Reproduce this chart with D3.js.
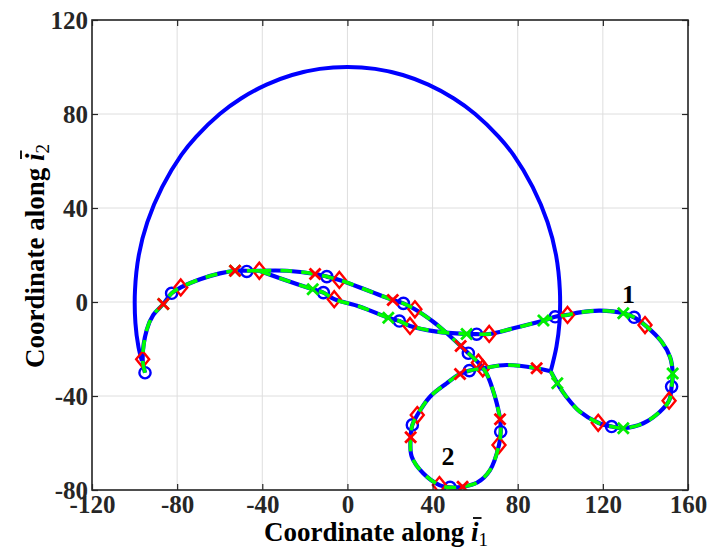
<!DOCTYPE html>
<html>
<head>
<meta charset="utf-8">
<script src="https://cdn.jsdelivr.net/npm/d3@7"></script>
<style>
  html, body { margin: 0; padding: 0; background: #fff; }
  svg { display: block; }
</style>
</head>
<body>
<svg id="chart" width="715" height="550"></svg>
<script>
// ---- axis ticks ----
const xTicks = [-120, -80, -40, 0, 40, 80, 120, 160];
const yTicks = [-80, -40, 0, 40, 80, 120];

// ---- reference circle (radius 100), sampled from its right end over the top to the left end ----
const arcPath = [
  [95.5, -29.5], [98.2, -19], [99.6, -9], [99.8, 5], [98, 20], [94, 34], [87, 49],
  [78, 62.6], [71, 70.4], [60, 80], [50, 86.6], [38, 92.5], [26, 96.6], [13, 99.2],
  [0, 100], [-13, 99.2], [-26, 96.6], [-38, 92.5], [-50, 86.6], [-60, 80],
  [-71, 70.4], [-78, 62.6], [-87, 49], [-94, 34], [-98, 20], [-99.8, 5],
  [-99.6, -9], [-98.2, -19], [-96.6, -25]
];

// ---- common launch segment shared by both trajectories ----
const sharedPath = [
  [-95.1, -30.1], [-96.2, -24.4], [-94.3, -11.9], [-91.2, -5.5], [-86.5, -0.85],
  [-82.6, 3.7], [-78.3, 6.2], [-69.2, 9.7], [-59.9, 12.2], [-52.8, 13.3],
  [-47.3, 13.3], [-41.4, 13.3]
];

// ---- trajectory 1: lower branch, loop "1", back to the circle ----
const path1 = [
  [-41.4, 13.3], [-31.7, 10.1], [-16.3, 5.4], [-11.3, 4.0], [-6.2, 1.2], [5.9, -2.0],
  [19.2, -6.7], [24.4, -8.1], [29.4, -10.2], [42.0, -12.6], [56.0, -13.6],
  [60.7, -13.7], [66.6, -13.6], [78, -11.2], [92.1, -7.9], [97.6, -6.3],
  [103.4, -5.5], [109.2, -4.4], [118.7, -3.7], [129.6, -4.8], [134.7, -6.5],
  [139.8, -9.8], [147.6, -16.9], [151.6, -23.5], [152.8, -30.4], [152.3, -36],
  [151.1, -42], [146.8, -46.7], [139, -51.6], [129.6, -53.7], [124.1, -53],
  [117.8, -51.4], [109.2, -46.7], [103, -40.5], [98.6, -34.6], [95.5, -29.5]
];

// ---- trajectory 2: upper branch, loop "2", back to the circle ----
const path2 = [
  [-41.4, 13.3], [-28.5, 13.3], [-15.2, 11.9], [-9.7, 10.8], [-3.8, 9.4], [9.0, 5.1],
  [21.3, 0.85], [26.3, -0.6], [31.7, -3.1], [40.3, -8.4], [45.0, -11.9],
  [53.2, -18.7], [56.8, -21.8], [61.5, -25.8], [65.4, -30.5], [69.3, -40.3],
  [71.7, -49.9], [72.0, -55.2], [71.2, -60.9], [67.0, -71.5], [61.0, -76.8],
  [54.1, -78.6], [48.2, -78.9], [43.2, -77.9], [35.6, -72.9], [30.2, -65.8],
  [29.7, -57.6], [30.5, -52.3], [32.8, -48.1], [38.8, -40.3], [46.6, -34.6],
  [52.9, -30.6], [57.3, -29.2], [63.6, -28.2], [74.8, -26.8], [88.9, -28.2],
  [95.5, -29.5]
];

// ---- sampled instants along the trajectories ----
const blueCircles = [
  [-95.1, -30.1], [-82.6, 3.7], [-47.3, 13.0],
  [-9.7, 10.8], [26.3, -0.6], [56.8, -21.8], [72.0, -55.2], [48.2, -78.9],
  [30.5, -52.3], [57.3, -29.2],
  [-11.3, 4.0], [24.4, -8.1], [60.7, -13.7], [97.6, -6.3], [134.7, -6.5],
  [152.3, -36], [124.1, -53]
];
const redDiamonds = [
  [-96.2, -24.4], [-78.3, 6.2], [-41.4, 13.3],
  [-3.8, 9.4], [31.7, -3.1], [61.5, -25.8], [71.2, -60.9], [43.2, -77.9],
  [32.8, -48.1], [63.6, -28.2],
  [-6.2, 1.2], [29.4, -10.2], [66.6, -13.6], [103.4, -5.5], [139.8, -9.8],
  [151.1, -42], [117.8, -51.4]
];
const greenCrosses = [
  [-86.5, -0.85], [-52.8, 13.3],
  [-16.3, 5.4], [19.2, -6.7], [56.0, -13.6], [92.1, -7.9], [129.6, -4.8],
  [152.8, -30.4], [129.6, -53.7], [98.6, -34.6]
];
const redCrosses = [
  [-86.5, -0.85], [-52.8, 13.3],
  [-15.2, 11.9], [21.3, 0.85], [53.2, -18.7], [71.7, -49.9], [54.1, -78.6],
  [29.7, -57.6], [52.9, -30.6], [88.9, -28.2]
];

// ---- loop annotations ----
const loopLabels = [
  { text: "1", x: 132.0, y: 3.6 },
  { text: "2", x: 47.2, y: -65.7 }
];

// ---------------------------------------------------------------
const svg = d3.select("#chart");
const plot = { left: 92, right: 688, top: 20, bottom: 490 };
const x = d3.scaleLinear().domain([-120, 160]).range([plot.left, plot.right]);
const y = d3.scaleLinear().domain([-80, 120]).range([plot.bottom, plot.top]);

const serif = "'Liberation Serif', 'Times New Roman', serif";
const axisColor = "#262626";

// grid
const grid = svg.append("g");
grid.selectAll("line.gx").data(xTicks).join("line")
  .attr("x1", d => x(d)).attr("x2", d => x(d))
  .attr("y1", plot.top).attr("y2", plot.bottom)
  .attr("stroke", "#dedede").attr("stroke-width", 1);
grid.selectAll("line.gy").data(yTicks).join("line")
  .attr("y1", d => y(d)).attr("y2", d => y(d))
  .attr("x1", plot.left).attr("x2", plot.right)
  .attr("stroke", "#dedede").attr("stroke-width", 1);

// curves
svg.append("clipPath").attr("id", "plotclip").append("rect")
  .attr("x", plot.left).attr("y", plot.top)
  .attr("width", plot.right - plot.left).attr("height", plot.bottom - plot.top);
const layer = svg.append("g").attr("clip-path", "url(#plotclip)");

const line = d3.line().x(d => x(d[0])).y(d => y(d[1])).curve(d3.curveCatmullRom.alpha(0.5));

layer.append("path").attr("d", line(arcPath))
  .attr("fill", "none").attr("stroke", "#0000ff").attr("stroke-width", 4)
  .attr("stroke-linecap", "butt");

const trajectories = [sharedPath, path1, path2];
trajectories.forEach(p => {
  layer.append("path").attr("d", line(p))
    .attr("fill", "none").attr("stroke", "#0000ff").attr("stroke-width", 4.2)
    .attr("stroke-linejoin", "round");
});

// blue circle markers
layer.selectAll("circle.bo").data(blueCircles).join("circle")
  .attr("cx", d => x(d[0])).attr("cy", d => y(d[1])).attr("r", 5.6)
  .attr("fill", "none").attr("stroke", "#0000ff").attr("stroke-width", 2.4);

// red diamond markers
const diamond = (cx, cy) => `M${cx},${cy - 8}L${cx + 6.5},${cy}L${cx},${cy + 8}L${cx - 6.5},${cy}Z`;
layer.selectAll("path.rd").data(redDiamonds).join("path")
  .attr("d", d => diamond(x(d[0]), y(d[1])))
  .attr("fill", "none").attr("stroke", "#ff0000").attr("stroke-width", 2.4);

// green dashed overlay
trajectories.forEach(p => {
  layer.append("path").attr("d", line(p))
    .attr("fill", "none").attr("stroke", "#00ff00").attr("stroke-width", 3.6)
    .attr("stroke-dasharray", "12,9");
});

const cross = (cx, cy, s) => `M${cx - s},${cy - s}L${cx + s},${cy + s}M${cx - s},${cy + s}L${cx + s},${cy - s}`;
layer.selectAll("path.gx").data(greenCrosses).join("path")
  .attr("d", d => cross(x(d[0]), y(d[1]), 5.5))
  .attr("fill", "none").attr("stroke", "#00ee00").attr("stroke-width", 2.8);
layer.selectAll("path.rx").data(redCrosses).join("path")
  .attr("d", d => cross(x(d[0]), y(d[1]), 5.5))
  .attr("fill", "none").attr("stroke", "#ff0000").attr("stroke-width", 2.8);

// loop annotations
svg.selectAll("text.loop").data(loopLabels).join("text")
  .attr("x", d => x(d.x)).attr("y", d => y(d.y)).attr("dy", "0.35em")
  .attr("text-anchor", "middle")
  .attr("font-family", serif).attr("font-weight", "bold").attr("font-size", 26)
  .attr("fill", "#000").text(d => d.text);

// axes with inward ticks on all four sides
const tickLen = 6;
const styleAxis = g => {
  g.select(".domain").remove();
  g.selectAll(".tick line").attr("stroke", axisColor).attr("stroke-width", 1.2);
  g.selectAll(".tick text").attr("font-family", serif).attr("font-weight", "bold")
    .attr("font-size", 25).attr("fill", axisColor);
};
svg.append("g").attr("transform", `translate(0,${plot.bottom})`)
  .call(d3.axisBottom(x).tickValues(xTicks).tickSize(-tickLen).tickPadding(5).tickFormat(d3.format("d")))
  .call(styleAxis);
svg.append("g").attr("transform", `translate(0,${plot.top})`)
  .call(d3.axisTop(x).tickValues(xTicks).tickSize(-tickLen).tickFormat(""))
  .call(styleAxis);
svg.append("g").attr("transform", `translate(${plot.left},0)`)
  .call(d3.axisLeft(y).tickValues(yTicks).tickSize(-tickLen).tickPadding(4).tickFormat(d3.format("d")))
  .call(styleAxis);
svg.append("g").attr("transform", `translate(${plot.right},0)`)
  .call(d3.axisRight(y).tickValues(yTicks).tickSize(-tickLen).tickFormat(""))
  .call(styleAxis);

// tick labels use a plain hyphen for the minus sign
svg.selectAll(".tick text").text(function () { return this.textContent.replace("\u2212", "-"); });

// frame
svg.append("rect").attr("x", plot.left).attr("y", plot.top)
  .attr("width", plot.right - plot.left).attr("height", plot.bottom - plot.top)
  .attr("fill", "none").attr("stroke", axisColor).attr("stroke-width", 1.6);

// axis titles: "Coordinate along" + barred italic i + subscript
function axisTitle(g, sub) {
  const t = g.append("text").attr("text-anchor", "middle")
    .attr("font-family", serif).attr("font-weight", "bold").attr("font-size", 27).attr("fill", "#000");
  t.append("tspan").text("Coordinate along ");
  t.append("tspan").attr("font-style", "italic").text("i");
  t.append("tspan").attr("font-weight", "normal").attr("font-size", 19).attr("dy", 5).text(sub);
  const node = t.node();
  const idx = "Coordinate along ".length;
  const s = node.getStartPositionOfChar(idx);
  const e = node.getEndPositionOfChar(idx);
  g.append("line")
    .attr("x1", s.x + 2).attr("x2", e.x + 3)
    .attr("y1", s.y - 23).attr("y2", s.y - 23)
    .attr("stroke", "#000").attr("stroke-width", 1.8);
}
axisTitle(svg.append("g").attr("transform", "translate(376,541)"), "1");
axisTitle(svg.append("g").attr("transform", "translate(44,256) rotate(-90)"), "2");
</script>
</body>
</html>
